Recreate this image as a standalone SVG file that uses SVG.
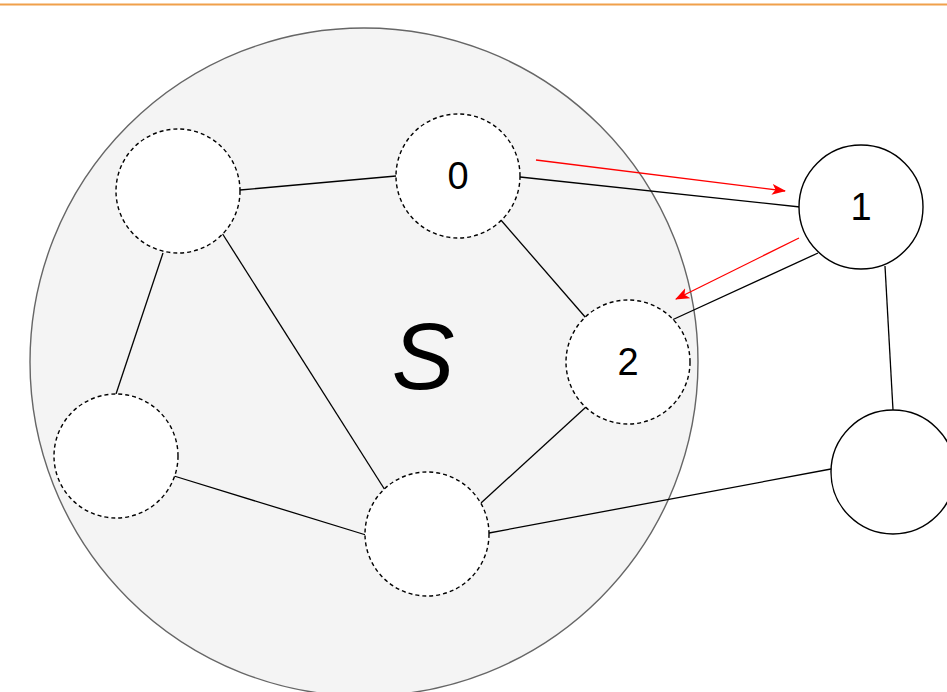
<svg xmlns="http://www.w3.org/2000/svg" width="947" height="692" viewBox="0 0 947 692">
<style>
.n{fill:#fff;stroke:#000;stroke-width:1.4}
.d{stroke-dasharray:4 3}
.e{stroke:#000;stroke-width:1.3;fill:none}
.r{stroke:#f00;stroke-width:1.3;fill:none;marker-end:url(#ah)}
.t{font-family:"Liberation Sans",Arial,sans-serif;font-size:38px;text-anchor:middle;fill:#000}
</style>
<defs>
<marker id="ah" viewBox="0 0 14 12" refX="13" refY="6" markerWidth="14" markerHeight="12" markerUnits="userSpaceOnUse" orient="auto">
<path d="M0,0.5 L14,6 L0,11.5 L3.5,6 Z" fill="#f00"/>
</marker>
</defs>
<rect width="947" height="692" fill="#fff"/>
<line x1="0" y1="4.5" x2="947" y2="4.5" stroke="#f0a04b" stroke-width="2"/>
<g id="S">
<circle cx="364" cy="362" r="334" fill="#f4f4f4" stroke="#666" stroke-width="1.4"/>
<text x="423" y="389" font-family="'Liberation Sans',Arial,sans-serif" font-size="94" font-style="italic" text-anchor="middle">S</text>
</g>
<g id="connectors">
<line class="e" x1="240" y1="190" x2="396" y2="176"/>
<line class="e" x1="520" y1="177" x2="800" y2="207"/>
<line class="e" x1="500" y1="219" x2="586" y2="318"/>
<line class="e" x1="818" y1="253" x2="672" y2="320"/>
<line class="e" x1="885" y1="266" x2="893" y2="410"/>
<line class="e" x1="163" y1="253" x2="116" y2="394"/>
<line class="e" x1="222" y1="233" x2="385" y2="490"/>
<line class="e" x1="174" y1="476" x2="366" y2="535"/>
<line class="e" x1="586" y1="407" x2="481" y2="503"/>
<line class="e" x1="489" y1="533" x2="831" y2="469"/>
<line class="r" x1="536" y1="160" x2="785" y2="191"/>
<line class="r" x1="799" y1="238" x2="676" y2="299"/>
</g>
<g id="nodeTL"><circle class="n d" cx="178" cy="191" r="62"/></g>
<g id="node0"><circle class="n d" cx="458" cy="176" r="62"/><text class="t" x="458" y="189">0</text></g>
<g id="node1"><circle class="n" cx="861" cy="207" r="62"/><text class="t" x="861" y="220">1</text></g>
<g id="node2"><circle class="n d" cx="628" cy="362" r="62"/><text class="t" x="628" y="375">2</text></g>
<g id="nodeL"><circle class="n d" cx="116" cy="456" r="62"/></g>
<g id="nodeB"><circle class="n d" cx="427" cy="534" r="62"/></g>
<g id="nodeR"><circle class="n" cx="893" cy="472" r="62"/></g>
</svg>
